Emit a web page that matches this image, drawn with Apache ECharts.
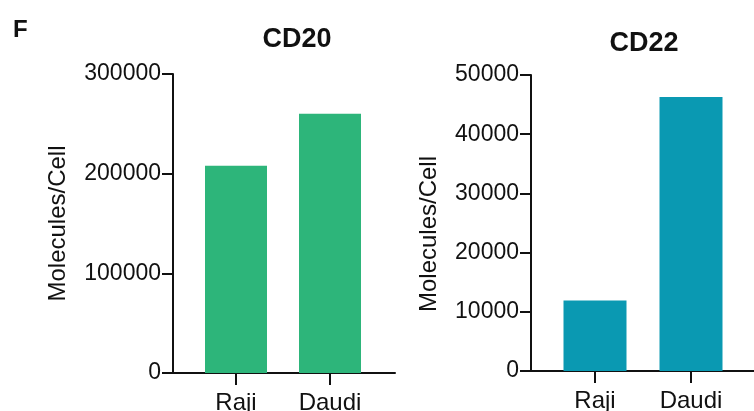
<!DOCTYPE html>
<html>
<head>
<meta charset="utf-8">
<script src="https://cdn.jsdelivr.net/npm/echarts@6/dist/echarts.min.js"></script>
<style>
  html, body { margin: 0; padding: 0; background: #fff; }
  #chart { width: 754px; height: 411px; }
</style>
</head>
<body>
<div id="chart"></div>
<script>
const cellLines = ["Raji", "Daudi"];
const cd20Values = [208000, 260000];
const cd22Values = [11900, 46300];
const cd20Ticks = { min: 0, max: 300000, interval: 100000 };
const cd22Ticks = { min: 0, max: 50000, interval: 10000 };

const FONT = "'Liberation Sans', Arial, sans-serif";
const INK = "#111";

const chart = echarts.init(document.getElementById("chart"), null, { renderer: "canvas" });

function valueAxis(gridIndex, ticks, nameGap, namePad) {
  return {
    type: "value",
    gridIndex,
    min: ticks.min,
    max: ticks.max,
    interval: ticks.interval,
    offset: 16,
    name: "Molecules/Cell",
    nameLocation: "middle",
    nameGap,
    nameTextStyle: { fontFamily: FONT, fontSize: 24, color: INK, padding: namePad },
    axisLine: { show: true, lineStyle: { color: INK, width: 2 } },
    axisTick: { show: true, length: 11, lineStyle: { color: INK, width: 2 } },
    axisLabel: { fontFamily: FONT, fontSize: 23, color: INK, margin: 12, formatter: (v) => String(v) },
    splitLine: { show: false },
  };
}

function categoryAxis(gridIndex) {
  return {
    type: "category",
    gridIndex,
    data: cellLines,
    axisLine: { show: false },
    axisTick: { show: true, alignWithLabel: true, length: 12, lineStyle: { color: INK, width: 2 } },
    axisLabel: { fontFamily: FONT, fontSize: 24, color: INK, margin: 18 },
  };
}

// plain baseline that runs past the bars, like the Prism style
function baseAxis(gridIndex) {
  return {
    type: "value",
    gridIndex,
    min: 0,
    max: 1,
    axisLine: { show: true, lineStyle: { color: INK, width: 2 } },
    axisTick: { show: false },
    axisLabel: { show: false },
    splitLine: { show: false },
  };
}

function hiddenY(gridIndex) {
  return { type: "value", gridIndex, show: false, splitLine: { show: false } };
}

chart.setOption({
  animation: false,
  title: [
    { text: "F", left: 8, top: 13, textStyle: { fontFamily: FONT, fontSize: 24, fontWeight: "bold", color: INK } },
    { text: "CD20", left: 292, top: 21, textAlign: "center", textStyle: { fontFamily: FONT, fontSize: 27, fontWeight: "bold", color: INK } },
    { text: "CD22", left: 639, top: 25, textAlign: "center", textStyle: { fontFamily: FONT, fontSize: 27, fontWeight: "bold", color: INK } },
  ],
  grid: [
    { left: 189, width: 188, top: 74, height: 299, outerBoundsMode: "none" },
    { left: 173, width: 222, top: 74, height: 299, outerBoundsMode: "none" },
    { left: 547, width: 192, top: 75, height: 296, outerBoundsMode: "none" },
    { left: 531, right: 0, top: 75, height: 296, outerBoundsMode: "none" },
  ],
  xAxis: [categoryAxis(0), baseAxis(1), categoryAxis(2), baseAxis(3)],
  yAxis: [
    valueAxis(0, cd20Ticks, 103, 0),
    hiddenY(1),
    valueAxis(2, cd22Ticks, 90, [0, 22, 0, 0]),
    hiddenY(3),
  ],
  series: [
    {
      type: "bar",
      xAxisIndex: 0,
      yAxisIndex: 0,
      data: cd20Values,
      barWidth: 62,
      itemStyle: { color: "#2db57a" },
    },
    {
      type: "bar",
      xAxisIndex: 2,
      yAxisIndex: 2,
      data: cd22Values,
      barWidth: 63,
      itemStyle: { color: "#0a99b2" },
    },
  ],
});
</script>
</body>
</html>
